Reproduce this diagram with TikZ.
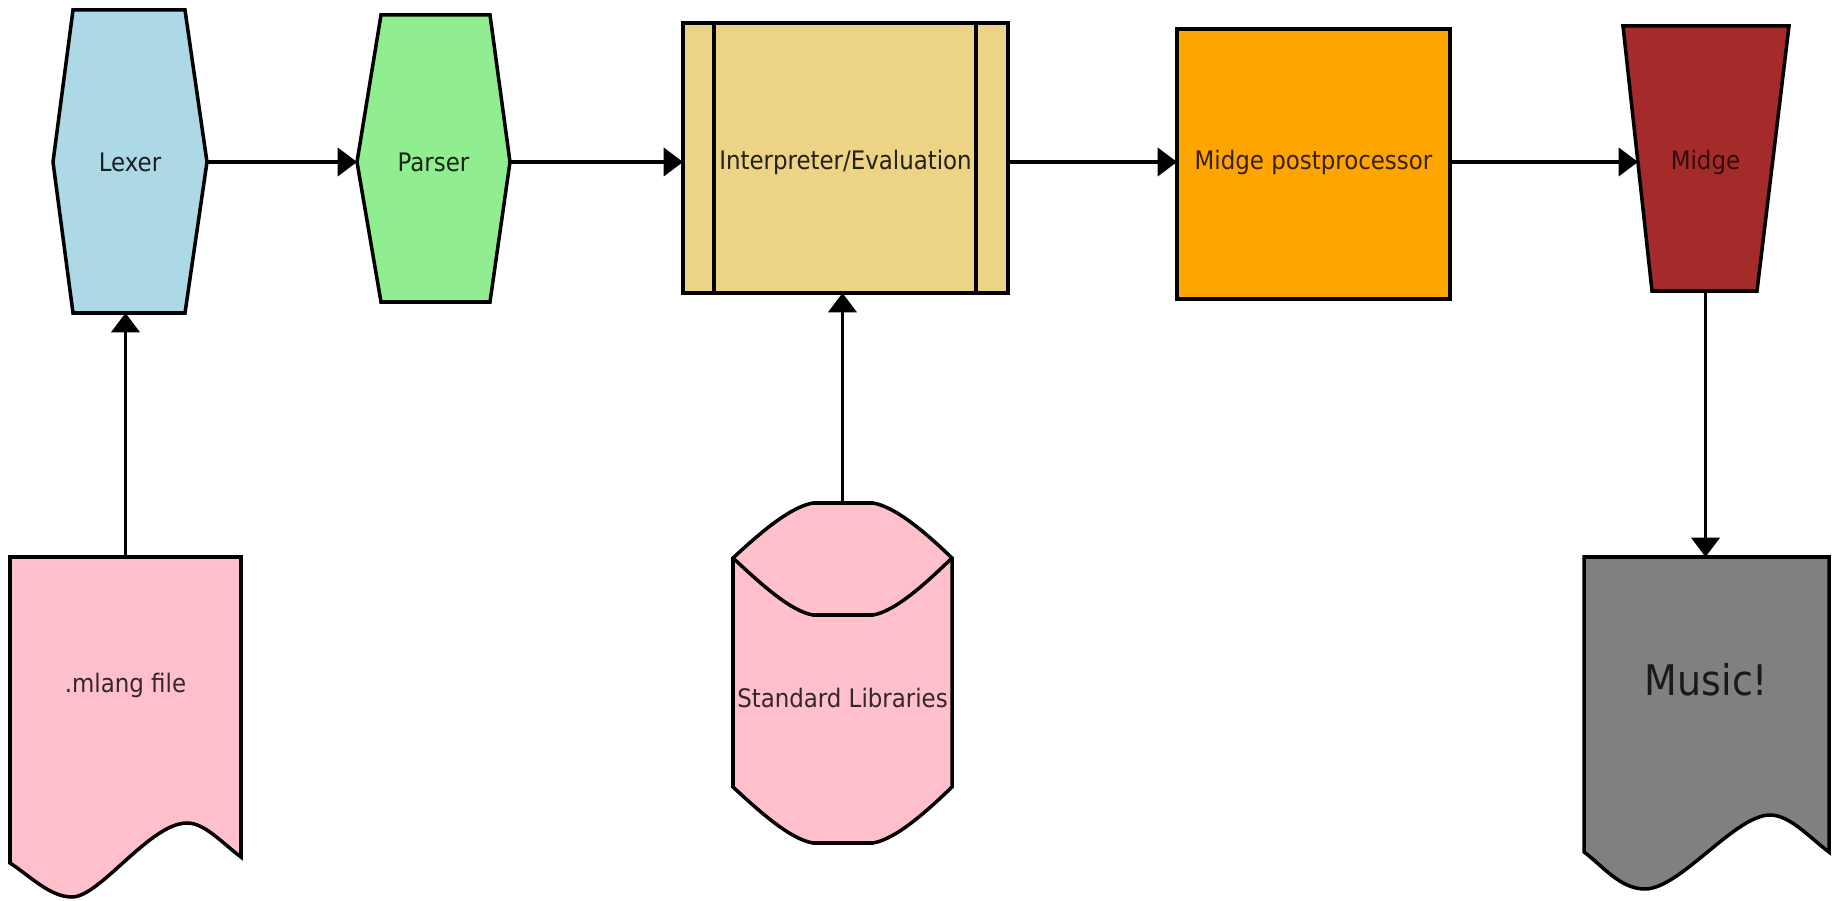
\documentclass[tikz,border=0pt]{standalone}
\usepackage{fontspec}
\setmainfont{DejaVu Sans Condensed}
\usetikzlibrary{arrows.meta}
\definecolor{lexfill}{RGB}{173,216,230}
\definecolor{parfill}{RGB}{144,238,144}
\definecolor{intfill}{RGB}{237,211,134}
\definecolor{postfill}{RGB}{255,165,0}
\definecolor{midfill}{RGB}{165,42,42}
\definecolor{pinkfill}{RGB}{255,192,203}
\definecolor{musfill}{RGB}{128,128,128}
\tikzset{
  shapeline/.style={draw=black, line width=2pt, line join=miter},
  anchorbox/.style={inner sep=0pt, outer sep=0pt, draw=none, font=\fontsize{14.5}{16}\selectfont},
  arr/.style={line width=2pt, -{Triangle[length=11pt,width=16pt]}},
}
\begin{document}
\begin{tikzpicture}[x=0.02cm, y=-0.02cm]
\useasboundingbox (0,0) rectangle (1837,901);
% shapes
\path[shapeline, fill=lexfill] (73,10) -- (185,10) -- (207,162) -- (185,313) -- (73,313) -- (53,162) -- cycle;
\path[shapeline, fill=parfill] (381,15) -- (490,15) -- (510,162) -- (490,302) -- (381,302) -- (357,162) -- cycle;
\path[shapeline, fill=intfill] (683,23) rectangle (1008,293);
\draw[line width=2pt] (714,23) -- (714,293) (976,23) -- (976,293);
\path[shapeline, fill=postfill] (1177,29) rectangle (1450,299);
\path[shapeline, fill=midfill] (1623,26) -- (1789,26) -- (1757,291) -- (1652,291) -- cycle;
\path[shapeline, fill=pinkfill] (10,557) -- (241,557) -- (241,857)
  .. controls (222,843) and (205,823) .. (187,823)
  .. controls (150,823) and (100,897) .. (72,897)
  .. controls (50,897) and (30,876) .. (10,863) -- cycle;
\path[shapeline, fill=pinkfill] (733,558) .. controls (760,533) and (790,507) .. (813,503) -- (873,503)
  .. controls (896,507) and (926,533) .. (952,558) -- (952,787)
  .. controls (926,812) and (896,839) .. (873,843) -- (813,843)
  .. controls (790,839) and (760,812) .. (733,787) -- cycle;
\draw[line width=2pt] (733,558) .. controls (760,583) and (790,611) .. (813,615) -- (873,615)
  .. controls (896,611) and (926,583) .. (952,558);
\path[shapeline, fill=musfill] (1584,557) -- (1829,557) -- (1829,852)
  .. controls (1810,838) and (1790,815) .. (1770,815)
  .. controls (1735,815) and (1680,889) .. (1645,889)
  .. controls (1620,889) and (1603,866) .. (1584,852) -- cycle;
% nodes
\node[anchorbox, minimum width=3.08cm, minimum height=6.04cm, text=lexfill!15!black] (lexer) at (130,162) {Lexer};
\node[anchorbox, minimum width=3.06cm, minimum height=5.6cm, text=parfill!15!black] (parser) at (433.5,162) {Parser};
\node[anchorbox, minimum width=6.5cm, minimum height=5.24cm, text=intfill!15!black] (interp) at (845.5,162) {Interpreter/Evaluation};
\node[anchorbox, minimum width=5.46cm, minimum height=5.4cm, text=postfill!20!black] (post) at (1313.5,162) {Midge postprocessor};
\node[anchorbox, minimum width=2.7cm, minimum height=5.16cm, text=midfill!30!black] (midge) at (1705.5,162) {Midge};
\node[anchorbox, minimum width=4.62cm, minimum height=5.12cm, text=pinkfill!20!black] (mlang) at (125.5,685) {.mlang file};
\node[anchorbox, minimum width=4.38cm, minimum height=7.9cm, text=pinkfill!20!black] (stdlib) at (842.5,698) {Standard Libraries};
\node[anchorbox, minimum width=4.9cm, minimum height=4.92cm, font=\fontsize{24}{28}\selectfont, text=musfill!20!black] (music) at (1706.5,680) {Music!};
% connectors
\draw[arr] (lexer.east) -- (lexer.east -| parser.west);
\draw[arr] (parser.east) -- (parser.east -| interp.west);
\draw[arr] (interp.east) -- (interp.east -| post.west);
\draw[arr] (post.east) -- (post.east -| midge.west);
\draw[arr] (mlang.north) -- (mlang.north |- lexer.south);
\draw[arr] (stdlib.north) -- (stdlib.north |- interp.south);
\draw[arr] (midge.south) -- (midge.south |- music.north);
\end{tikzpicture}
\end{document}
